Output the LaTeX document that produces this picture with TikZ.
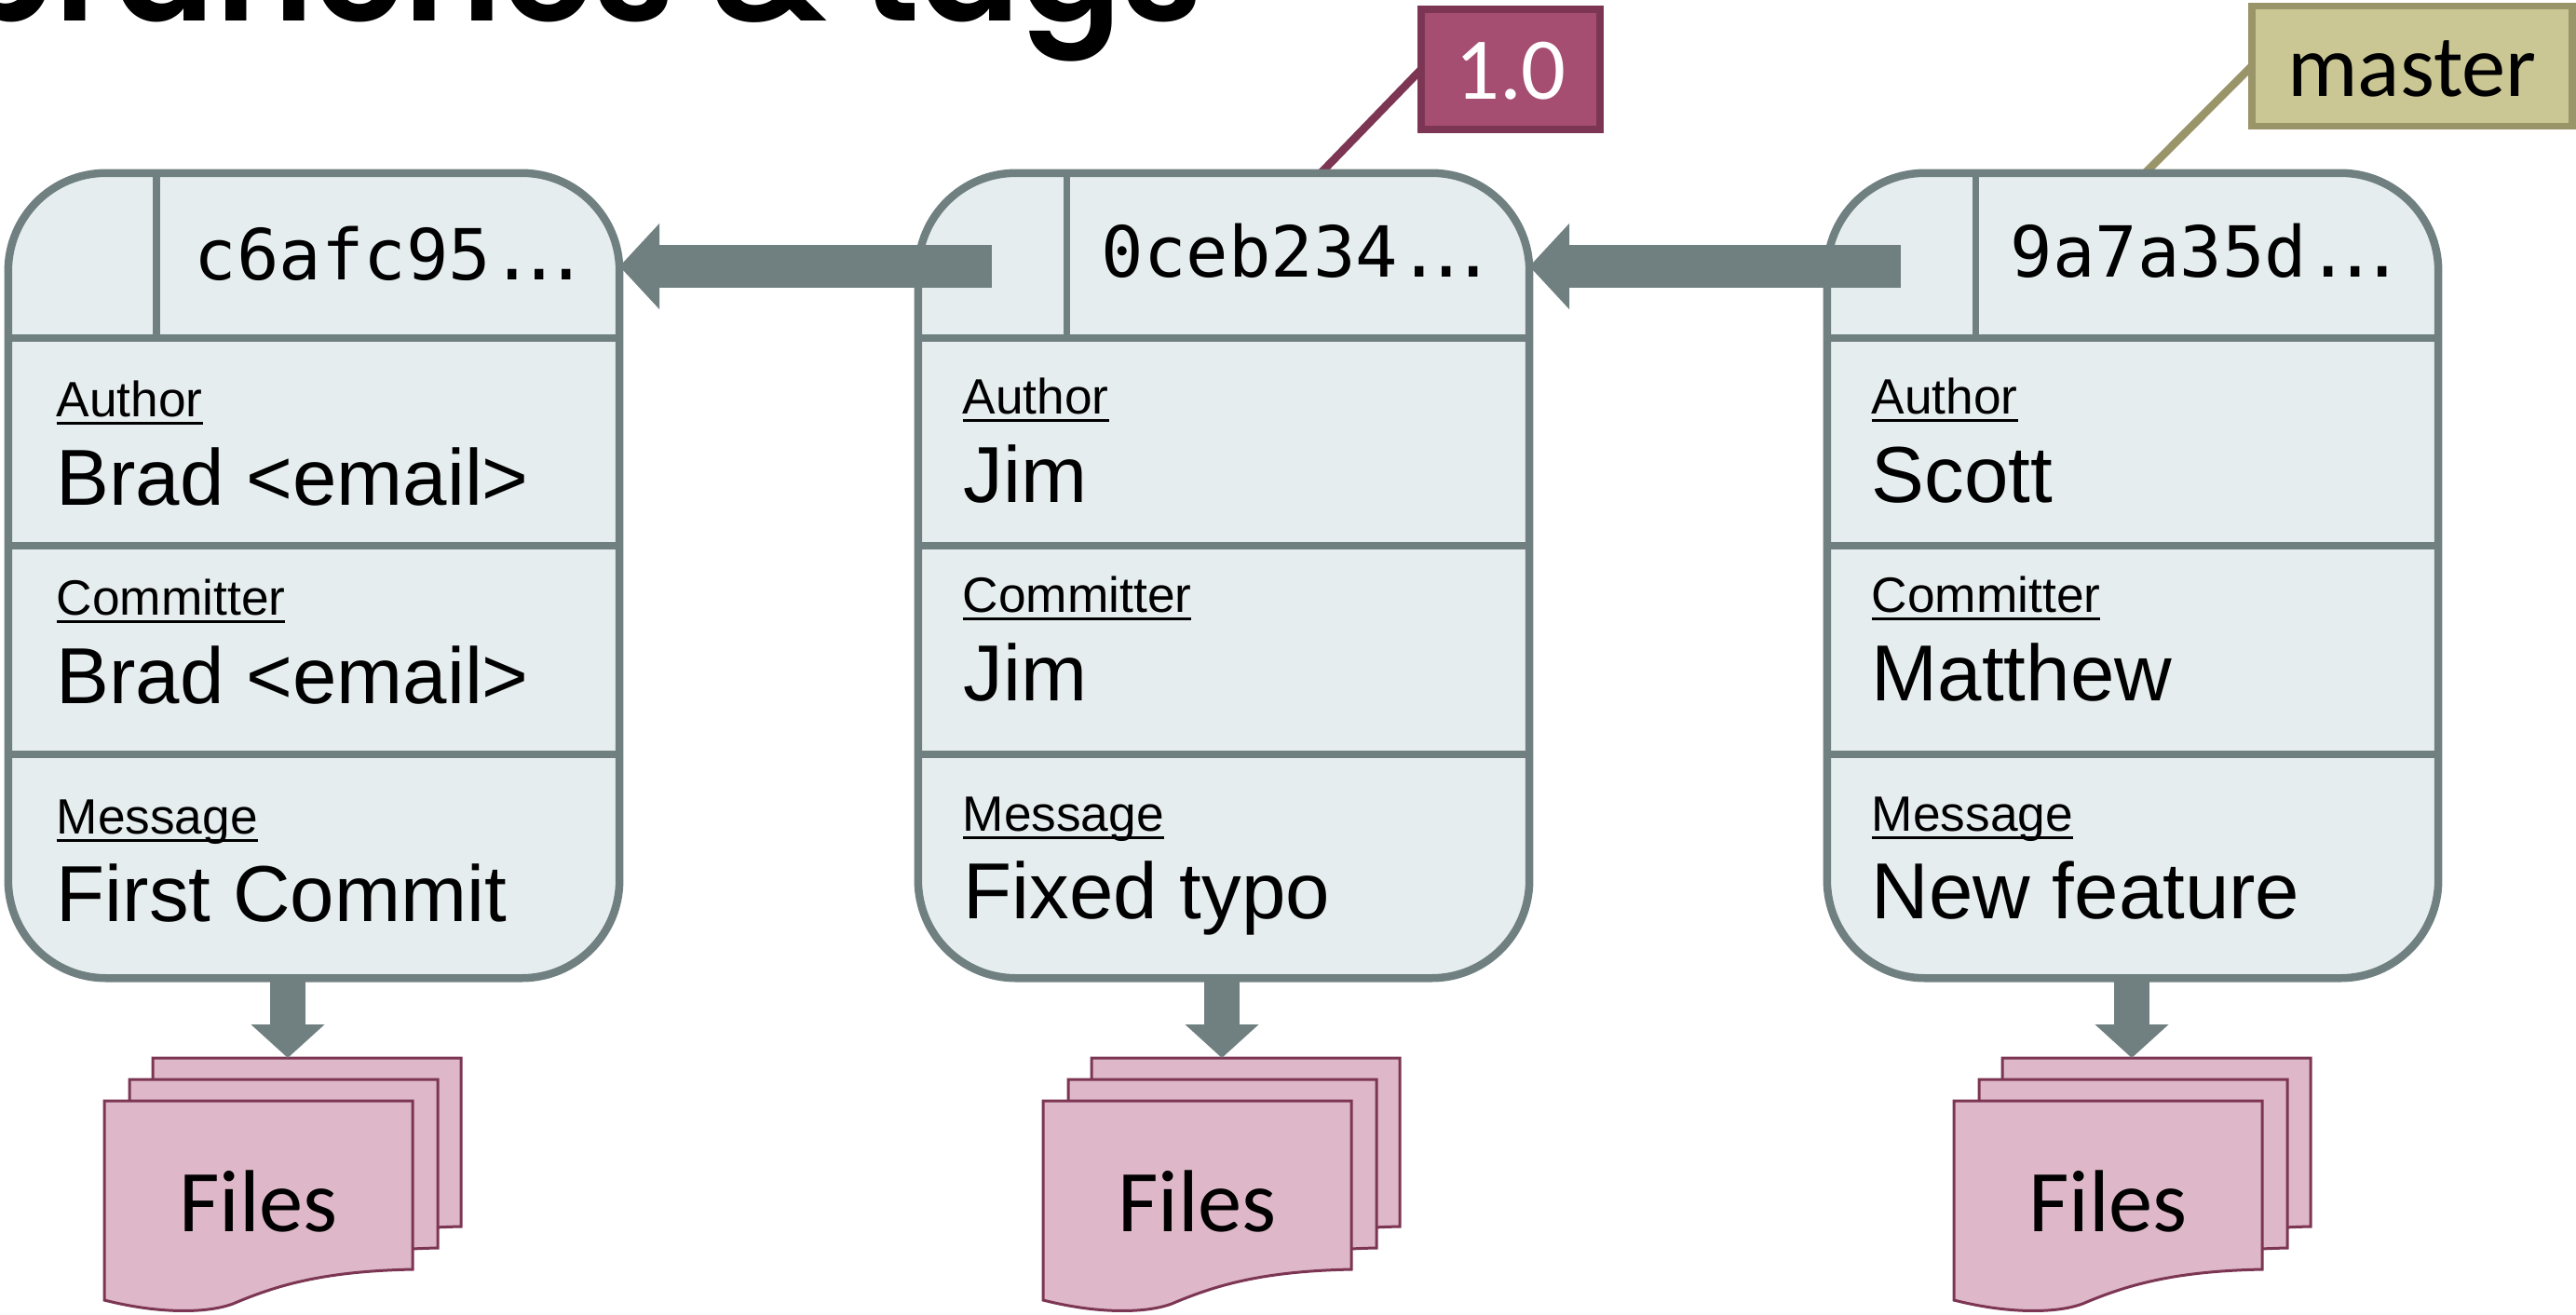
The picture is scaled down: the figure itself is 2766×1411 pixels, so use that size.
\documentclass[tikz,border=0pt]{standalone}
\usepackage{fontspec}
\setmainfont{Liberation Sans}
\newfontfamily\filefont{Carlito}
\newfontfamily\hashfont{DejaVu Sans Mono}
\newfontfamily\dotsfont[LetterSpace=-22]{DejaVu Sans Mono}
\newfontfamily\titlefont{Poppins SemiBold}
\newcommand{\fieldname}[1]{\setbox0\hbox{#1}\rlap{\vrule width \wd0 height -1.7pt depth 2.6pt}\box0}
\definecolor{slate}{HTML}{708081}
\definecolor{mist}{HTML}{E6EDEF}
\definecolor{plum}{HTML}{A64D72}
\definecolor{plumdark}{HTML}{7C3653}
\definecolor{rose}{HTML}{DEB8C8}
\definecolor{straw}{HTML}{CBC795}
\definecolor{strawdark}{HTML}{9A9469}
\usetikzlibrary{arrows.meta}
\tikzset{
  commitbox/.style = {draw = slate, fill = mist, line width = 0.085cm, rounded corners = 1.05cm, minimum width = 6.56cm, minimum height = 8.64cm, outer sep = 0},
  rowline/.style = {draw = slate, line width = 0.08cm},
  hashline/.style = {draw = slate, line width = 0.07cm},
  hashtext/.style = {anchor = base west, inner sep = 0, font = \hashfont\fontsize{21.5}{21.5}\selectfont},
  fieldtext/.style = {anchor = base west, inner sep = 0, font = \fontsize{15.15}{15.15}\selectfont},
  valuetext/.style = {anchor = base west, inner sep = 0, font = \fontsize{24.25}{24.25}\selectfont},
  parentarrow/.style = {draw = slate, line width = 0.46cm, -{Triangle[width = 0.9cm, length = 0.43cm]}},
  filesarrow/.style = {draw = slate, line width = 0.38cm, -{Triangle[width = 0.77cm, length = 0.36cm]}},
  tagbox/.style = {line width = 0.075cm, inner sep = 0, outer sep = 0, text height = 0.64cm, text depth = 0, font = \filefont\fontsize{26.9}{26.9}\selectfont},
  tagline/.style = {line width = 0.085cm},
  sheetline/.style = {draw = plumdark, fill = rose, line width = 0.03cm},
  filesheet/.pic = {
    \draw[sheetline] (0, 0) -- (331, 0) -- (331, 181)
      .. controls (235, 183) and (185, 198) .. (138, 218)
      .. controls (108, 229) and (55, 228) .. (0, 214) -- cycle;
  },
  filestack/.pic = {
    \pic at (52, -46) {filesheet};
    \pic at (27, -23) {filesheet};
    \pic at (0, 0) {filesheet};
    \node[anchor = base, inner sep = 0, font = \filefont\fontsize{26.9}{26.9}\selectfont] (-label) at (165.5, 140) {Files};
  }
}
\begin{document}
\begin{tikzpicture}[x = 0.01cm, y = -0.01cm]
\useasboundingbox (0, 0) rectangle (2766, 1411);
\node[anchor = base west, inner sep = 0, font = \titlefont\fontsize{45.5}{45.5}\selectfont] (title) at (-51, 22) {branches \& tags};

\node[tagbox, draw = plumdark, fill = plum, text = white, minimum width = 1.92cm, minimum height = 1.29cm] (tag2) at (1622, 74.5) {1.0};
\node[tagbox, draw = strawdark, fill = straw, minimum width = 3.44cm, minimum height = 1.29cm] (tag3) at (2590, 71) {master};
\coordinate (pin2) at (1418, 186);
\coordinate (pin3) at (2303, 186);
\draw[tagline, draw = plumdark] (tag2.west) -- (pin2);
\draw[tagline, draw = strawdark] (tag3.west) -- (pin3);

% first commit
\node[commitbox] (commit1) at (337, 618) {};
\draw[rowline] (commit1.west |- 0, 363) -- (commit1.east |- 0, 363);
\draw[rowline] (commit1.west |- 0, 586) -- (commit1.east |- 0, 586);
\draw[rowline] (commit1.west |- 0, 810) -- (commit1.east |- 0, 810);
\draw[hashline] (168, 186) -- (168, 363);
\node[hashtext] (hash1) at (208, 300) {c6afc95{\dotsfont ...}};
\node[fieldtext] (author1) at (60, 447) {\fieldname{Author}};
\node[valuetext] (authorname1) at (60, 542) {Brad <email>};
\node[fieldtext] (committer1) at (60, 660) {\fieldname{Committer}};
\node[valuetext] (committername1) at (60, 755) {Brad <email>};
\node[fieldtext] (message1) at (60, 895) {\fieldname{Message}};
\node[valuetext] (messagetext1) at (60, 989) {First Commit};

% second commit
\node[commitbox] (commit2) at (1314, 618) {};
\draw[rowline] (commit2.west |- 0, 363) -- (commit2.east |- 0, 363);
\draw[rowline] (commit2.west |- 0, 586) -- (commit2.east |- 0, 586);
\draw[rowline] (commit2.west |- 0, 810) -- (commit2.east |- 0, 810);
\draw[hashline] (1145, 186) -- (1145, 363);
\node[hashtext] (hash2) at (1182, 297) {0ceb234{\dotsfont ...}};
\node[fieldtext] (author2) at (1033, 444) {\fieldname{Author}};
\node[valuetext] (authorname2) at (1034, 539) {Jim};
\node[fieldtext] (committer2) at (1033, 657) {\fieldname{Committer}};
\node[valuetext] (committername2) at (1034, 752) {Jim};
\node[fieldtext] (message2) at (1033, 892) {\fieldname{Message}};
\node[valuetext] (messagetext2) at (1034, 986) {Fixed typo};

% third commit
\node[commitbox] (commit3) at (2290, 618) {};
\draw[rowline] (commit3.west |- 0, 363) -- (commit3.east |- 0, 363);
\draw[rowline] (commit3.west |- 0, 586) -- (commit3.east |- 0, 586);
\draw[rowline] (commit3.west |- 0, 810) -- (commit3.east |- 0, 810);
\draw[hashline] (2121, 186) -- (2121, 363);
\node[hashtext] (hash3) at (2158, 297) {9a7a35d{\dotsfont ...}};
\node[fieldtext] (author3) at (2009, 444) {\fieldname{Author}};
\node[valuetext] (authorname3) at (2009, 539) {Scott};
\node[fieldtext] (committer3) at (2009, 657) {\fieldname{Committer}};
\node[valuetext] (committername3) at (2009, 752) {Matthew};
\node[fieldtext] (message3) at (2009, 892) {\fieldname{Message}};
\node[valuetext] (messagetext3) at (2009, 986) {New feature};

\coordinate (tail2) at (1065, 286);
\coordinate (tail3) at (2041, 286);
\draw[parentarrow] (tail2) -- (commit1.east |- tail2);
\draw[parentarrow] (tail3) -- (commit2.east |- tail3);

\pic (files1) at (112, 1182) {filestack};
\pic (files2) at (1120, 1182) {filestack};
\pic (files3) at (2098, 1182) {filestack};
\coordinate (tip1) at (309, 1136);
\coordinate (tip2) at (1312, 1136);
\coordinate (tip3) at (2289, 1136);
\draw[filesarrow] (commit1.south -| tip1) -- (tip1);
\draw[filesarrow] (commit2.south -| tip2) -- (tip2);
\draw[filesarrow] (commit3.south -| tip3) -- (tip3);
\end{tikzpicture}
\end{document}
